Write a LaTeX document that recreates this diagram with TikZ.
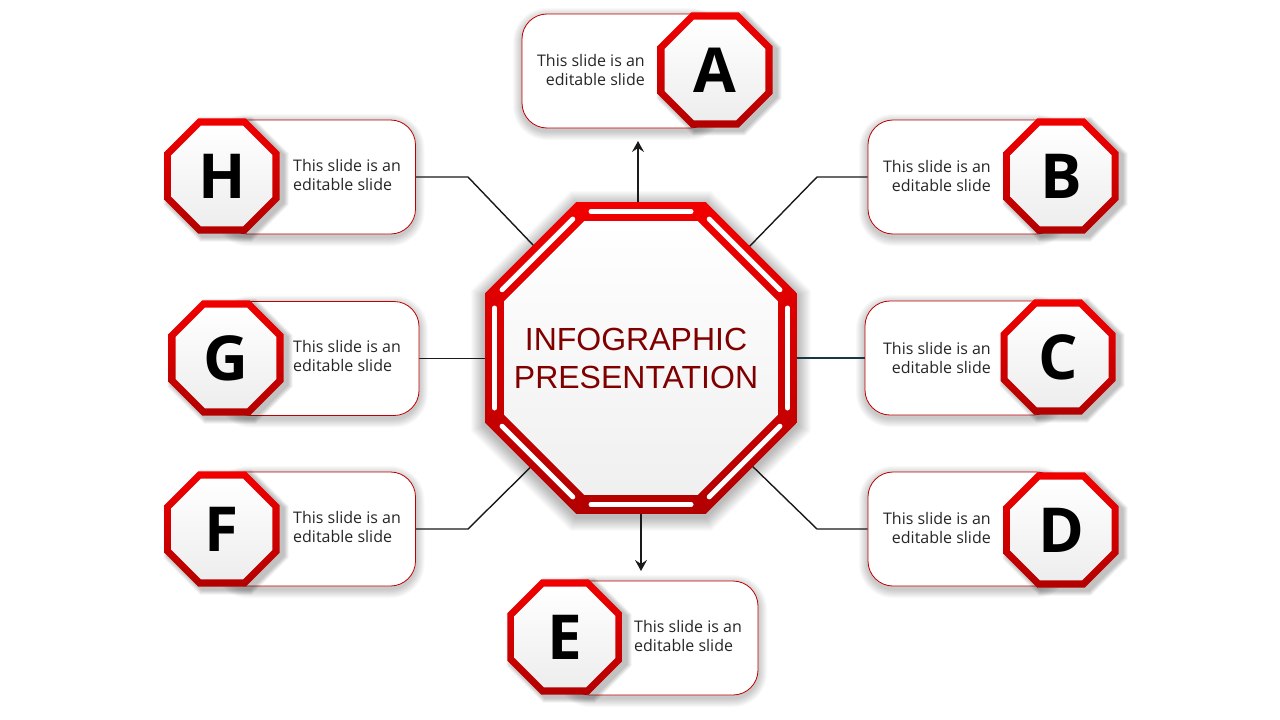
\documentclass[tikz,border=0pt]{standalone}
\usepackage{fontspec}
\setmainfont{Open Sans}
\newfontfamily\arialf{Liberation Sans}
\usetikzlibrary{shapes.geometric,arrows.meta}
\definecolor{redtop}{RGB}{242,0,0}
\definecolor{redbot}{RGB}{178,0,0}
\definecolor{boxline}{RGB}{192,0,0}
\definecolor{titlered}{RGB}{128,0,0}
\definecolor{linec}{RGB}{26,26,26}
\definecolor{tealc}{RGB}{23,55,71}
\definecolor{txt}{RGB}{38,38,38}
\pgfdeclarelayer{paper}
\pgfdeclarelayer{shade}
\pgfdeclarelayer{bg}
\pgfsetlayers{paper,shade,bg,main}
\tikzset{
  oct/.style={regular polygon, regular polygon sides=8, inner sep=0pt, outer sep=0pt},
  bigout/.style={oct, minimum size=337.7pt, top color=redtop, bottom color=redbot},
  bigin/.style={oct, minimum size=296.5pt, top color=white, bottom color=black!6},
  slit/.style={white, line width=5pt, line cap=round},
  smout/.style={oct, minimum size=124.5pt, top color=redtop, bottom color=redbot},
  smin/.style={oct, minimum size=109.3pt, top color=white, bottom color=black!7,
     font=\fontsize{62}{62}\selectfont\bfseries, text=black},
  boxst/.style={draw=boxline, line width=0.8pt, fill=white, rounded corners=25pt,
     minimum width=193pt, minimum height=114pt, inner sep=0pt},
  desc/.style={font=\fontsize{16}{19}\selectfont, text=txt, inner sep=0pt},
  conn/.style={draw=linec, line width=1.4pt},
  arr/.style={conn, -{Stealth[length=11pt,width=12pt,inset=4pt]}},
  shd/.style={fill=black, fill opacity=#1, draw=none}
}
\begin{document}
\begin{tikzpicture}[x=1pt,y=-1pt]
\useasboundingbox (0,0) rectangle (1280,720);
\begin{pgfonlayer}{paper}
\fill[white] (0,0) rectangle (1280,720);
\end{pgfonlayer}

% boxes
\foreach \n/\x/\y in {A/618.5/71, B/964.5/177, C/961.5/358, D/964.5/529,
                      E/661.5/638, F/319/529, G/322.5/358.5, H/319/177}{
  \node[boxst] (b\n) at (\x,\y) {};
  \begin{pgfonlayer}{shade}
  \foreach \k in {1,...,9}{
    \node[shd=0.022, rounded corners=25pt+\k pt, inner sep=0pt,
          minimum width=193pt+2*\k pt, minimum height=114pt+2*\k pt] at (\x,\y+3) {};
  }
  \end{pgfonlayer}
}

% central octagon
\begin{pgfonlayer}{shade}
\foreach \k in {1,...,14}{
  \node[oct, shd=0.02, minimum size=337.7pt+2.16*\k pt] at (641,361) {};
}
\end{pgfonlayer}
\node[bigout] (cen) at (641,358) {};
\node[bigin] (ceni) at (641,358) {};
\coordinate (cc) at (641,358);
\foreach \t in {0,45,...,315}{
  \draw[slit] (cc) ++(\t:146.5) ++(\t+90:50) -- ++(\t-90:100);
}
\node[font=\arialf\fontsize{32}{38}\selectfont, text=titlered, align=center, inner sep=0pt]
  (title) at (636,358) {INFOGRAPHIC\\PRESENTATION};

% small octagons
\foreach \n/\x/\y in {A/715/70, B/1061/176, C/1058/357, D/1061/530,
                      E/565/637, F/222/529, G/226/358, H/222/176}{
  \foreach \k in {1,...,5}{
    \node[oct, shd=0.05, minimum size=124.5pt+2.16*\k pt] at (\x+4,\y+3) {};
  }
  \node[smout] (o\n) at (\x,\y) {};
  \node[smin] (l\n) at (\x,\y) {\n};
}

% descriptions
\foreach \n/\x/\y in {A/645/70, B/991/176, C/991/358, D/991/528}{
  \node[desc, anchor=east, align=right] (t\n) at (\x,\y) {This slide is an\\editable slide};
}
\foreach \n/\x/\y in {E/634/636, F/293/527, G/293/356, H/293/175}{
  \node[desc, anchor=west, align=left] (t\n) at (\x,\y) {This slide is an\\editable slide};
}

% connectors
\coordinate (aA) at (638,141);
\coordinate (aE) at (641,571);
\coordinate (kB) at (817,177);
\coordinate (kD) at (817,529);
\coordinate (kF) at (468,529);
\coordinate (kH) at (468,177);
\begin{pgfonlayer}{bg}
  \draw[arr] (aA |- cen.north) -- (aA);
  \draw[arr] (cen.south) -- (aE);
  \draw[conn] (cc) -- (kB) -- (bB.west);
  \draw[conn] (cc) -- (kD) -- (bD.west);
  \draw[conn] (cc) -- (kF) -- (bF.east);
  \draw[conn] (cc) -- (kH) -- (bH.east);
  \draw[conn, draw=tealc] (cen.east) -- (bC.west);
  \draw[conn] (cen.west |- bG.east) -- (bG.east);
\end{pgfonlayer}
\end{tikzpicture}
\end{document}
